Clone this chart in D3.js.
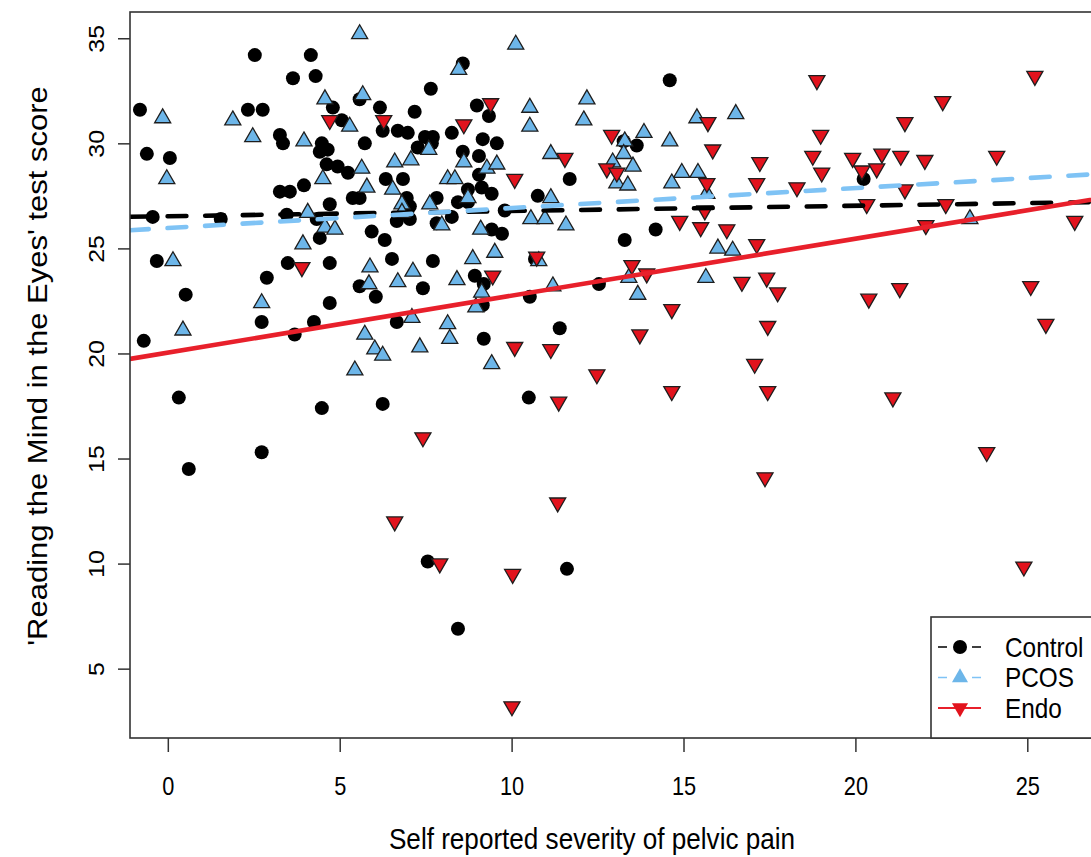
<!DOCTYPE html>
<html>
<head>
<meta charset="utf-8">
<script src="https://cdn.jsdelivr.net/npm/d3@7"></script>
<style>
body { margin: 0; background: #fff; }
text { font-family: "Liberation Sans", Arial, Helvetica, sans-serif; fill: #000; }
</style>
</head>
<body>
<svg id="chart"></svg>
<script>
// [pain, score] pairs
const control = [
    [-0.81,31.6],[-0.61,29.5],[0.06,29.3],[2.53,34.2],[4.16,34.2],[3.64,33.1],[4.30,33.2],[2.33,31.6],
    [2.76,31.6],[3.26,30.4],[3.35,30.0],[4.48,30.0],[4.42,29.6],[4.62,29.0],[3.96,28.0],[3.26,27.7],
    [3.55,27.7],[-0.44,26.5],[-0.32,24.4],[0.52,22.8],[-0.70,20.6],[1.54,26.4],[2.88,23.6],[2.73,21.5],
    [3.49,24.3],[3.69,20.9],[4.25,21.5],[4.42,25.5],[4.71,24.3],[4.71,22.4],[3.46,26.6],[4.33,26.4],
    [8.58,33.8],[7.65,32.6],[6.17,31.7],[7.18,31.5],[8.99,31.8],[5.58,32.1],[4.80,31.7],[5.06,31.1],
    [6.25,30.6],[6.69,30.6],[6.98,30.5],[7.48,30.3],[7.71,30.3],[8.26,30.5],[9.34,31.3],[4.65,29.7],
    [5.73,30.0],[7.27,29.8],[7.68,30.0],[8.58,29.6],[9.05,29.4],[9.16,30.2],[9.57,30.0],[4.94,28.9],
    [5.24,28.6],[6.34,28.3],[6.84,28.3],[9.05,28.5],[8.73,27.8],[9.13,27.9],[4.71,27.1],[5.38,27.4],
    [5.58,27.4],[6.95,27.4],[7.04,27.0],[6.66,26.3],[7.04,26.4],[5.93,25.8],[6.31,25.4],[7.82,27.4],
    [8.26,26.5],[7.82,26.2],[8.44,27.2],[8.73,27.2],[9.42,27.6],[9.42,25.9],[9.72,25.7],[9.80,26.8],
    [6.52,24.5],[7.71,24.4],[5.58,23.2],[6.05,22.7],[7.42,23.1],[8.93,23.7],[9.19,23.3],[9.16,22.3],
    [10.53,22.7],[6.66,21.5],[9.19,20.7],[14.60,33.0],[13.26,30.1],[13.64,29.9],[11.69,28.3],[10.76,27.5],
    [14.19,25.9],[13.29,25.4],[20.24,28.3],[10.68,24.5],[12.54,23.3],[11.40,21.2],[10.50,17.9],[0.32,17.9],
    [0.61,14.5],[2.73,15.3],[4.48,17.4],[6.25,17.6],[7.56,10.1],[8.44,6.9],[11.61,9.75]
]

const pcos = [
    [-0.15,31.2],[1.89,31.1],[2.47,30.3],[3.96,30.1],[4.57,32.1],[4.51,28.3],[-0.03,28.3],[0.15,24.4],
    [0.44,21.1],[2.73,22.4],[3.93,25.2],[4.07,26.7],[4.57,26.0],[5.58,35.2],[10.12,34.7],[8.46,33.5],
    [5.67,32.3],[5.29,30.8],[6.60,29.1],[7.07,29.2],[7.59,29.7],[5.64,28.8],[5.79,27.9],[8.14,28.3],
    [8.35,28.3],[8.61,29.1],[9.28,28.8],[9.57,29.0],[10.53,31.7],[10.53,30.8],[6.54,27.8],[6.81,27.1],
    [7.62,27.1],[8.73,27.4],[4.86,25.9],[6.81,26.7],[7.97,26.1],[9.10,25.9],[5.88,24.1],[5.85,23.3],
    [6.69,23.4],[7.13,23.9],[8.41,23.5],[8.87,24.5],[9.51,24.8],[9.13,22.9],[8.96,22.2],[7.10,21.7],
    [8.14,21.4],[8.20,20.7],[5.73,20.9],[6.02,20.2],[6.25,19.9],[7.33,20.3],[9.42,19.5],[5.44,19.2],
    [12.19,32.1],[12.10,31.1],[11.14,29.5],[13.85,30.5],[14.60,30.1],[15.39,31.2],[16.52,31.4],[13.29,30.1],
    [13.26,29.5],[12.94,29.1],[13.53,28.9],[13.06,28.1],[13.38,28.0],[14.95,28.6],[15.42,28.6],[14.66,28.1],
    [11.14,27.4],[10.56,26.4],[10.97,26.4],[11.58,26.1],[15.68,27.6],[16.00,25.0],[16.43,24.9],[10.79,24.4],
    [23.33,26.4],[11.20,23.2],[13.41,23.6],[13.67,22.8],[15.65,23.6]
]

const endo = [
    [4.71,31.1],[6.28,31.1],[8.61,30.9],[9.39,31.9],[10.09,28.3],[3.90,24.1],[9.45,23.7],[10.09,20.3],
    [12.91,30.4],[11.55,29.3],[12.77,28.8],[13.06,28.6],[15.71,31.0],[15.85,29.7],[15.68,28.1],[17.22,29.1],
    [17.13,28.1],[18.30,27.9],[15.62,26.8],[14.89,26.3],[15.50,26.0],[16.26,25.9],[17.13,25.2],[10.73,24.6],
    [13.50,24.2],[18.88,33.0],[25.22,33.2],[22.54,32.0],[21.44,31.0],[18.99,30.4],[18.76,29.4],[19.92,29.3],
    [20.77,29.5],[21.32,29.4],[22.02,29.2],[24.11,29.4],[19.02,28.6],[20.19,28.7],[20.62,28.8],[21.44,27.8],
    [20.33,27.1],[22.63,27.1],[22.05,26.1],[26.38,26.3],[13.93,23.8],[16.70,23.4],[17.42,23.6],[17.74,22.9],
    [14.66,22.1],[17.45,21.3],[13.73,20.9],[11.14,20.2],[17.07,19.5],[12.48,19.0],[14.66,18.2],[17.45,18.2],
    [11.37,17.7],[17.37,14.1],[11.34,12.9],[20.39,22.6],[21.29,23.1],[25.10,23.2],[25.54,21.4],[21.09,17.9],
    [23.82,15.3],[7.42,16.0],[6.60,12.0],[7.91,10.0],[10.03,9.5],[10.01,3.2],[24.90,9.85]
]

const fits = [
    { name: "Control", intercept: 26.53, slope: 0.025 },
    { name: "PCOS",    intercept: 25.97, slope: 0.095 },
    { name: "Endo",    intercept: 20.04, slope: 0.271 }
]

const groupNames = ["Control", "PCOS", "Endo"]
const xTicks = [0, 5, 10, 15, 20, 25]
const yTicks = [5, 10, 15, 20, 25, 30, 35]

const W = 1091, H = 857
const pLeft = 130, pTop = 12, pBottom = 738, pRight = 1127   // right edge lies beyond the page, as in the crop
const SX = 0.87   // glyphs in the source are squeezed sideways

const style = {
    Control: { fill: "#000", line: "#000", dash: "18.8 18.8" },
    PCOS:    { fill: "#6DB6E9", line: "#7FC3F5", dash: "18.8 18.8" },
    Endo:    { fill: "#E2131D", line: "#E8202B", dash: null }
}

const svg = d3.select("#chart").attr("width", W).attr("height", H)

const x = d3.scaleLinear().domain([-1.1, 27.9]).range([pLeft, pRight])
const y = d3.scaleLinear().domain([1.7, 36.25]).range([pBottom, pTop])

svg.append("clipPath").attr("id", "plotclip")
    .append("rect").attr("x", pLeft).attr("y", pTop).attr("width", pRight - pLeft).attr("height", pBottom - pTop)

const plot = svg.append("g").attr("clip-path", "url(#plotclip)")

// points
const tri = d3.symbol().type(d3.symbolTriangle).size(112)

plot.append("g").selectAll("circle")
    .data(control)
    .join("circle")
        .attr("cx", d => x(d[0]))
        .attr("cy", d => y(d[1]))
        .attr("r", 7)
        .attr("fill", style.Control.fill)

plot.append("g").selectAll("path")
    .data(pcos)
    .join("path")
        .attr("d", tri)
        .attr("transform", d => `translate(${x(d[0])},${y(d[1])})`)
        .attr("fill", style.PCOS.fill)
        .attr("stroke", "#1e1e1e")
        .attr("stroke-width", 1.3)

plot.append("g").selectAll("path")
    .data(endo)
    .join("path")
        .attr("d", tri)
        .attr("transform", d => `translate(${x(d[0])},${y(d[1])}) rotate(180)`)
        .attr("fill", style.Endo.fill)
        .attr("stroke", "#1e1e1e")
        .attr("stroke-width", 1.3)

// regression lines
const xd = x.domain()
plot.append("g").selectAll("line")
    .data(fits)
    .join("line")
        .attr("x1", x(xd[0]))
        .attr("x2", x(xd[1]))
        .attr("y1", d => y(d.intercept + d.slope * xd[0]))
        .attr("y2", d => y(d.intercept + d.slope * xd[1]))
        .attr("stroke", d => style[d.name].line)
        .attr("stroke-width", 4.6)
        .attr("stroke-linecap", "round")
        .attr("stroke-dasharray", d => style[d.name].dash)

// box
svg.append("rect")
    .attr("x", pLeft).attr("y", pTop)
    .attr("width", pRight - pLeft).attr("height", pBottom - pTop)
    .attr("fill", "none").attr("stroke", "#333").attr("stroke-width", 1.6)

// axes
const xAxisG = svg.append("g")
    .attr("transform", `translate(0,${pBottom})`)
    .call(d3.axisBottom(x).tickValues(xTicks).tickSize(14).tickFormat(d3.format("d")))
xAxisG.select(".domain").remove()
xAxisG.selectAll("line").attr("stroke", "#333").attr("stroke-width", 1.5)
xAxisG.selectAll("text")
    .attr("y", 0).attr("dy", null)
    .attr("transform", `translate(0,48) scale(${SX},1)`)
    .attr("dominant-baseline", "central")
    .style("font-size", "25px")
    .attr("font-family", null)

const yAxisG = svg.append("g")
    .attr("transform", `translate(${pLeft},0)`)
    .call(d3.axisLeft(y).tickValues(yTicks).tickSize(12).tickFormat(d3.format("d")))
yAxisG.select(".domain").remove()
yAxisG.selectAll("line").attr("stroke", "#333").attr("stroke-width", 1.5)
yAxisG.selectAll("text")
    .attr("x", 0).attr("dy", null)
    .attr("transform", `translate(-33,0) scale(${SX},1) rotate(-90)`)
    .attr("text-anchor", "middle")
    .attr("dominant-baseline", "central")
    .style("font-size", "25px")
    .attr("font-family", null)

// axis titles
svg.append("text")
    .attr("transform", `translate(592,839) scale(${SX},1)`)
    .attr("text-anchor", "middle")
    .attr("dominant-baseline", "central")
    .style("font-size", "30px")
    .text("Self reported severity of pelvic pain")

svg.append("text")
    .attr("transform", `translate(38,366) scale(${SX},1) rotate(-90)`)
    .attr("text-anchor", "middle")
    .attr("dominant-baseline", "central")
    .style("font-size", "31px")
    .text("'Reading the Mind in the Eyes' test score")

// legend
const legend = svg.append("g")
legend.append("rect")
    .attr("x", 931).attr("y", 617).attr("width", 200).attr("height", pBottom - 617)
    .attr("fill", "#fff").attr("stroke", "#333").attr("stroke-width", 1.6)

const ly = d3.scalePoint().domain(groupNames).range([647, 708])

const items = legend.selectAll("g.item")
    .data(groupNames)
    .join("g")
        .attr("class", "item")
        .attr("transform", d => `translate(0,${ly(d)})`)

items.append("line")
    .attr("x1", 938).attr("x2", 981)
    .attr("stroke", d => style[d].line)
    .attr("stroke-width", d => d === "Endo" ? 2 : 1.6)
    .attr("stroke-dasharray", d => d === "Endo" ? null : "9 25")

items.filter(d => d === "Control").append("circle")
    .attr("cx", 960).attr("r", 7).attr("fill", style.Control.fill)
items.filter(d => d !== "Control").append("path")
    .attr("d", tri)
    .attr("transform", d => `translate(960,0)` + (d === "Endo" ? " rotate(180)" : ""))
    .attr("fill", d => style[d].fill)

items.append("text")
    .attr("transform", `translate(1005,0) scale(${SX},1)`)
    .attr("dominant-baseline", "central")
    .style("font-size", "28px")
    .text(d => d)
</script>
</body>
</html>
